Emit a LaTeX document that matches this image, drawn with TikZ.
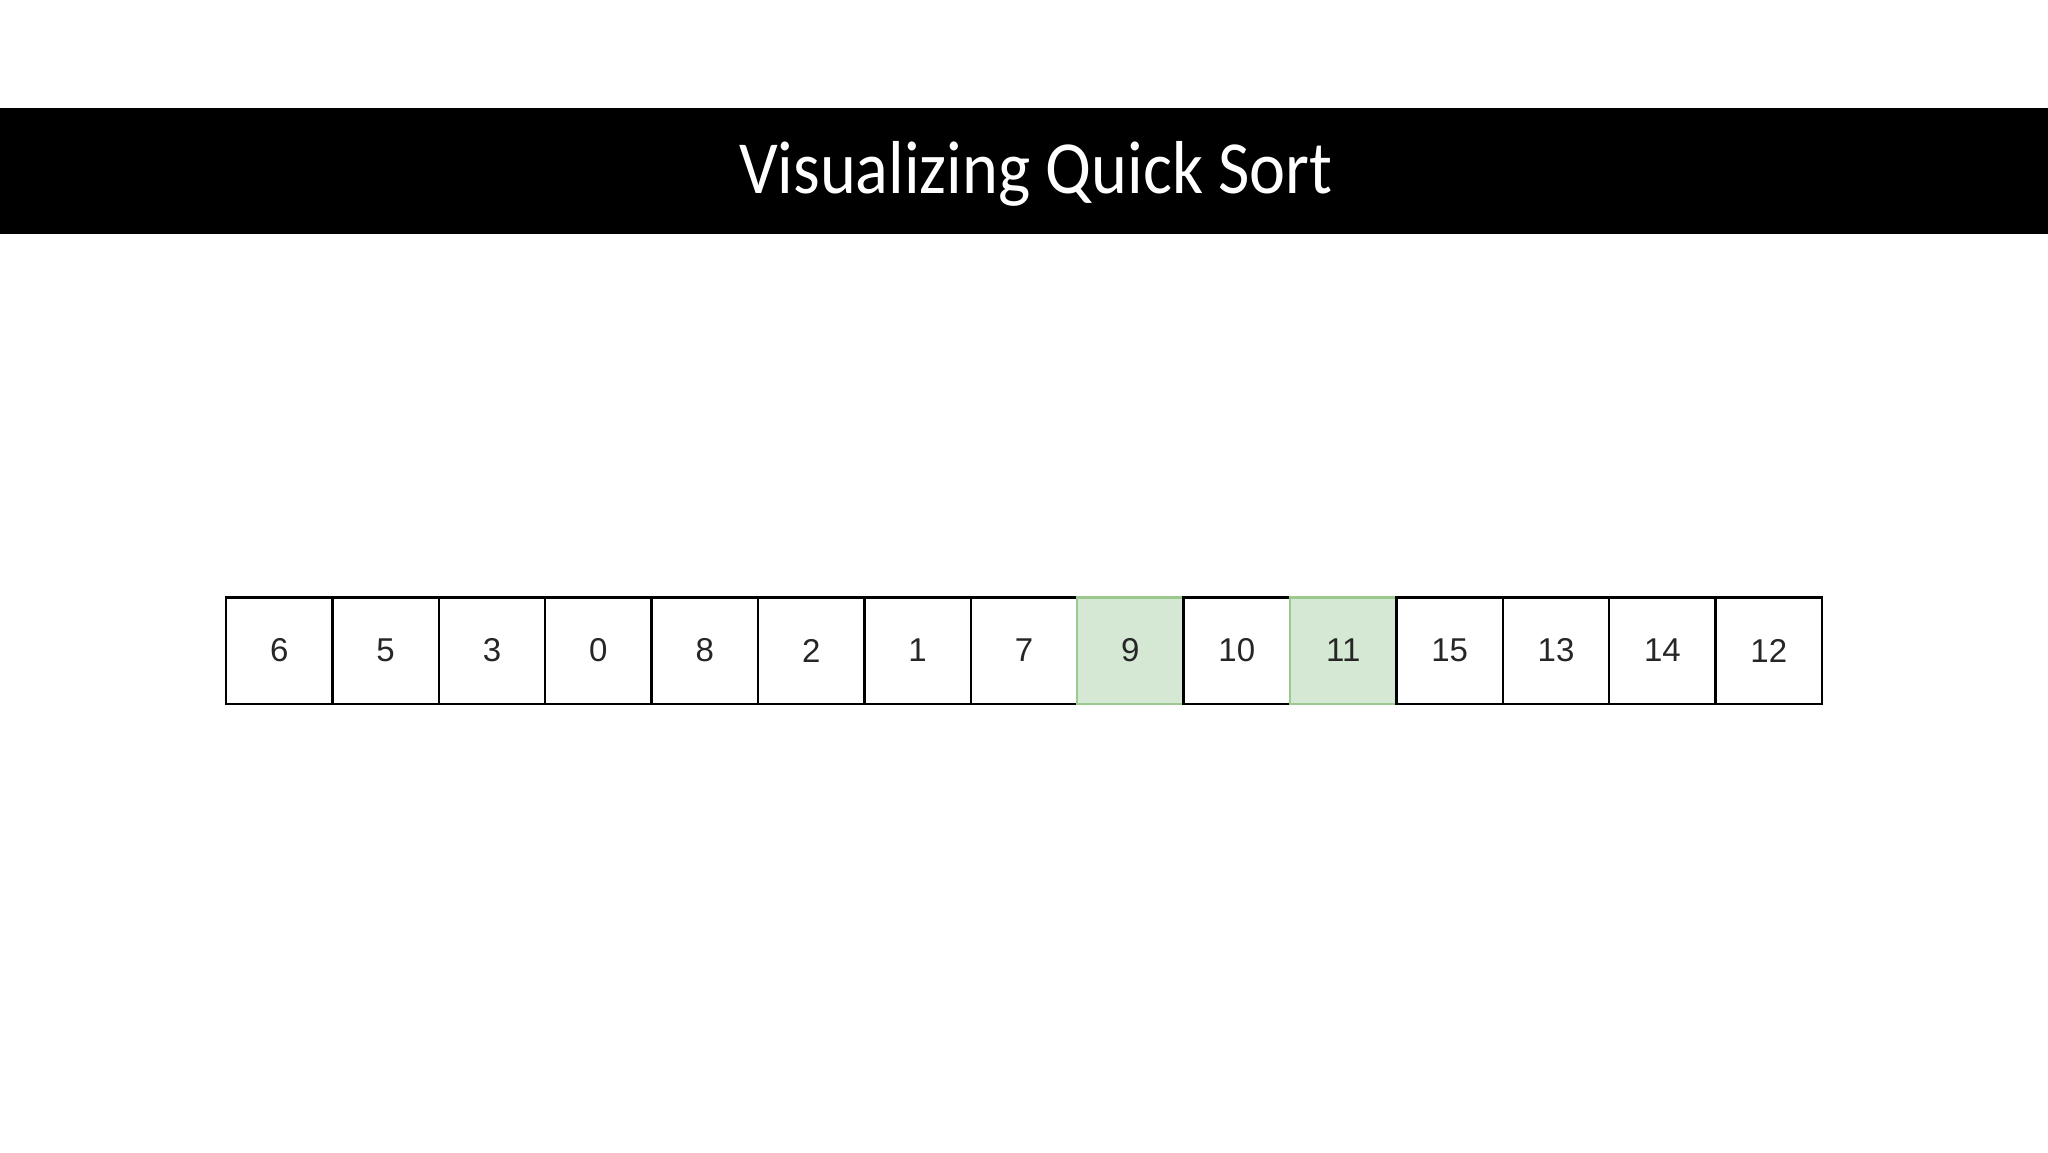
\documentclass[tikz,border=0pt]{standalone}
\usepackage{fontspec}
\setmainfont{Liberation Sans}
\newfontfamily\titlefont{Carlito}
\definecolor{pivotfill}{HTML}{D5E8D4}
\definecolor{pivotline}{HTML}{9CC98E}
\definecolor{digit}{HTML}{262626}
\tikzset{
  cell/.style={draw=black, line width=1.2pt, minimum size=53.2pt, inner sep=0pt, outer sep=0pt, text=digit, font=\fontsize{16.5}{18}\selectfont},
  pivot/.style={cell, draw=pivotline, fill=pivotfill}
}
\begin{document}
\begin{tikzpicture}[x=0.5pt, y=-0.5pt]
		\def\xleft{226} \def\cw{106.4} \def\ymid{650.5}
		\useasboundingbox (0,0) rectangle (2048,1152);
		\fill[black] (0,108) rectangle (2048,234);
		\node[anchor=base, text=white, font=\titlefont\fontsize{37.5}{44}\selectfont] (title) at (1036,193) {\scalebox{0.91}[1]{Visualizing Quick Sort}};
		% the array after partitioning
		\foreach \v/\s [count=\i] in {6/cell,5/cell,3/cell,0/cell,8/cell,2/cell,1/cell,7/cell,9/pivot,10/cell,11/pivot,15/cell,13/cell,14/cell,12/cell}
			\node[\s] (c\i) at ({\xleft+\cw*(\i-0.5)},\ymid) {\v};
		\end{tikzpicture}
\end{document}
